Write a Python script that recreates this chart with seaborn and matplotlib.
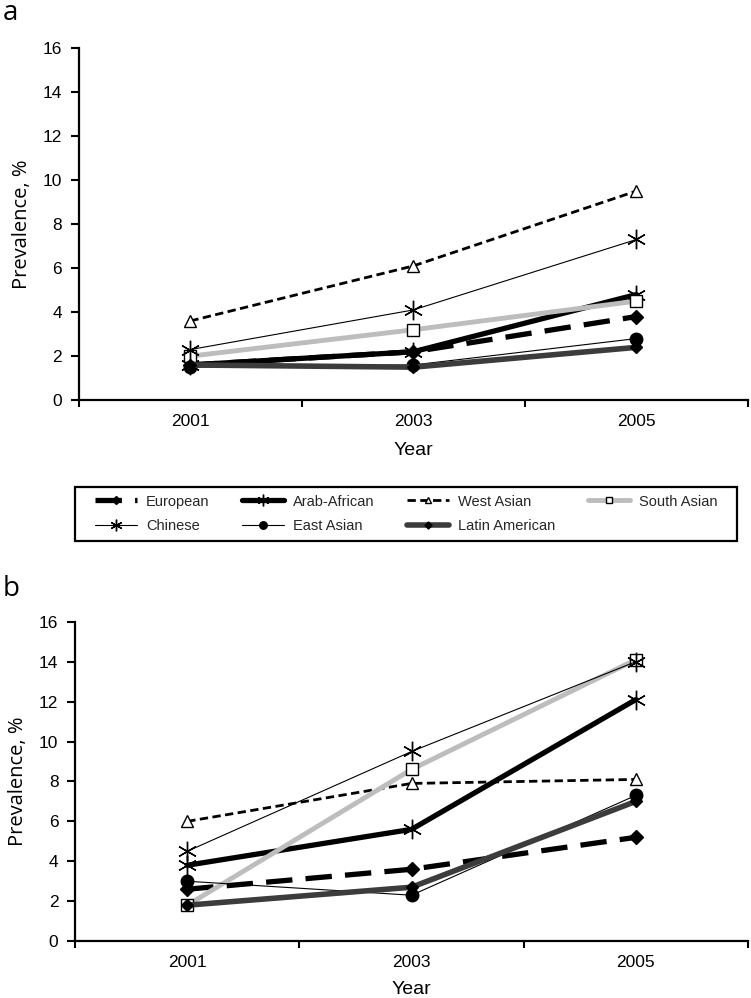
import numpy as np
import pandas as pd
import matplotlib
matplotlib.use("Agg")
import matplotlib.pyplot as plt
from matplotlib.patches import Rectangle
import seaborn as sns

# ---------------- data ----------------
years = ["2001", "2003", "2005"]
groups = ["European", "Arab-African", "West Asian", "South Asian",
          "Chinese", "East Asian", "Latin American"]

# panel a
european_a = [1.6, 2.2, 3.8]
arab_african_a = [1.6, 2.2, 4.8]
west_asian_a = [3.6, 6.1, 9.5]
south_asian_a = [2.0, 3.2, 4.5]
chinese_a = [2.3, 4.1, 7.3]
east_asian_a = [1.5, 1.6, 2.8]
latin_american_a = [1.6, 1.5, 2.4]

# panel b
european_b = [2.6, 3.6, 5.2]
arab_african_b = [3.8, 5.6, 12.1]
west_asian_b = [6.0, 7.9, 8.1]
south_asian_b = [1.8, 8.6, 14.1]
chinese_b = [4.5, 9.5, 14.0]
east_asian_b = [3.0, 2.3, 7.3]
latin_american_b = [1.8, 2.7, 7.0]

y_ticks = [0, 2, 4, 6, 8, 10, 12, 14, 16]

panel_a = dict(zip(groups, [european_a, arab_african_a, west_asian_a, south_asian_a,
                            chinese_a, east_asian_a, latin_american_a]))
panel_b = dict(zip(groups, [european_b, arab_african_b, west_asian_b, south_asian_b,
                            chinese_b, east_asian_b, latin_american_b]))

# ---------------- style ----------------
sns.set_theme(style="white")
plt.rcParams['font.family'] = ['Open Sans', 'DejaVu Sans']
plt.rcParams['legend.numpoints'] = 1
TICKFONT = ['Liberation Sans', 'DejaVu Sans']

ASTER = (6, 2, 0)
styles = {
    "European": dict(color="black", linewidth=3.8, linestyle=(0, (5, 2.5)), marker="D",
                     markersize=7, markerfacecolor="black", markeredgecolor="black", markeredgewidth=1),
    "Arab-African": dict(color="black", linewidth=3.8, linestyle="-", marker=ASTER,
                         markersize=14, markerfacecolor="none", markeredgecolor="black", markeredgewidth=1.0),
    "West Asian": dict(color="black", linewidth=2.0, linestyle=(0, (3, 1.6)), marker="^",
                       markersize=8, markerfacecolor="white", markeredgecolor="black", markeredgewidth=1.0),
    "South Asian": dict(color="#bdbdbd", linewidth=3.5, linestyle="-", marker="s",
                        markersize=8, markerfacecolor="white", markeredgecolor="black", markeredgewidth=1.0),
    "Chinese": dict(color="black", linewidth=0.8, linestyle="-", marker=ASTER,
                    markersize=14, markerfacecolor="none", markeredgecolor="black", markeredgewidth=1.0),
    "East Asian": dict(color="black", linewidth=0.8, linestyle="-", marker="o",
                       markersize=9, markerfacecolor="black", markeredgecolor="black", markeredgewidth=1),
    "Latin American": dict(color="#3c3c3c", linewidth=4.0, linestyle="-", marker="D",
                           markersize=6, markerfacecolor="black", markeredgecolor="black", markeredgewidth=1),
}

W, H = 751, 998
fig = plt.figure(figsize=(W / 100, H / 100), dpi=100)
ax_a = fig.add_axes([0.105, 0.599, 0.891, 0.353])
ax_b = fig.add_axes([0.100, 0.057, 0.896, 0.320])

xpos = np.arange(len(years))

def draw(ax, data, xlabelpad):
    for g in groups:
        df = pd.DataFrame({"x": xpos, "y": data[g]})
        sns.lineplot(data=df, x="x", y="y", ax=ax, errorbar=None, label=g, **styles[g])
    ax.set_xlim(-0.5, len(years) - 0.5)
    ax.set_ylim(0, 16)
    ax.set_yticks(y_ticks)
    ax.set_xticks(np.arange(-0.5, len(years), 1.0))
    ax.set_xticklabels([])
    ax.set_xticks(xpos, minor=True)
    ax.set_xticklabels(years, minor=True)
    ax.tick_params(axis="x", which="major", direction="out", length=5, width=1.5,
                   color="black", bottom=True)
    ax.tick_params(axis="x", which="minor", length=0, pad=10, labelsize=12.5, labelcolor="black")
    ax.tick_params(axis="y", direction="out", length=6, width=1.5, color="black", left=True,
                   pad=6, labelsize=12.5, labelcolor="black")
    for lab in ax.get_xticklabels(minor=True) + ax.get_yticklabels():
        lab.set_family(TICKFONT)
    for s in ["top", "right"]:
        ax.spines[s].set_visible(False)
    for s in ["left", "bottom"]:
        ax.spines[s].set_color("black")
        ax.spines[s].set_linewidth(1.6)
    ax.set_xlabel("Year", fontsize=14, color="black", labelpad=xlabelpad, family=TICKFONT)
    ax.set_ylabel("Prevalence, %", fontsize=14.5, color="black", labelpad=8)
    leg = ax.get_legend()
    if leg is not None:
        leg.remove()

draw(ax_a, panel_a, 9)
draw(ax_b, panel_b, 8)

# legend frame (box between the panels)
fig.patches.append(Rectangle((75 / W, 1 - 541 / H), (737 - 75) / W, (541 - 487) / H,
                             transform=fig.transFigure, fill=False,
                             edgecolor="black", linewidth=1.6))

# shared legend (row-major order)
handles, labels = ax_a.get_legend_handles_labels()
hmap = dict(zip(labels, handles))
order = ["European", "Chinese", "Arab-African", "East Asian",
         "West Asian", "Latin American", "South Asian"]
leg = fig.legend([hmap[k] for k in order], order, ncol=4,
                 bbox_to_anchor=(92 / W, 1 - 541 / H, (720 - 92) / W, (541 - 487) / H),
                 loc="center", mode="expand", frameon=False,
                 prop=dict(family=TICKFONT, size=10.5),
                 handlelength=2.9, handletextpad=0.6, borderaxespad=0,
                 labelspacing=0.75, borderpad=0.2, markerscale=0.6)

fig.text(0.004, 1 - 20 / H, "a", fontsize=20, color="black", va="baseline")
fig.text(0.004, 1 - 596 / H, "b", fontsize=20, color="black", va="baseline")

fig.savefig("out.png", dpi=100)
